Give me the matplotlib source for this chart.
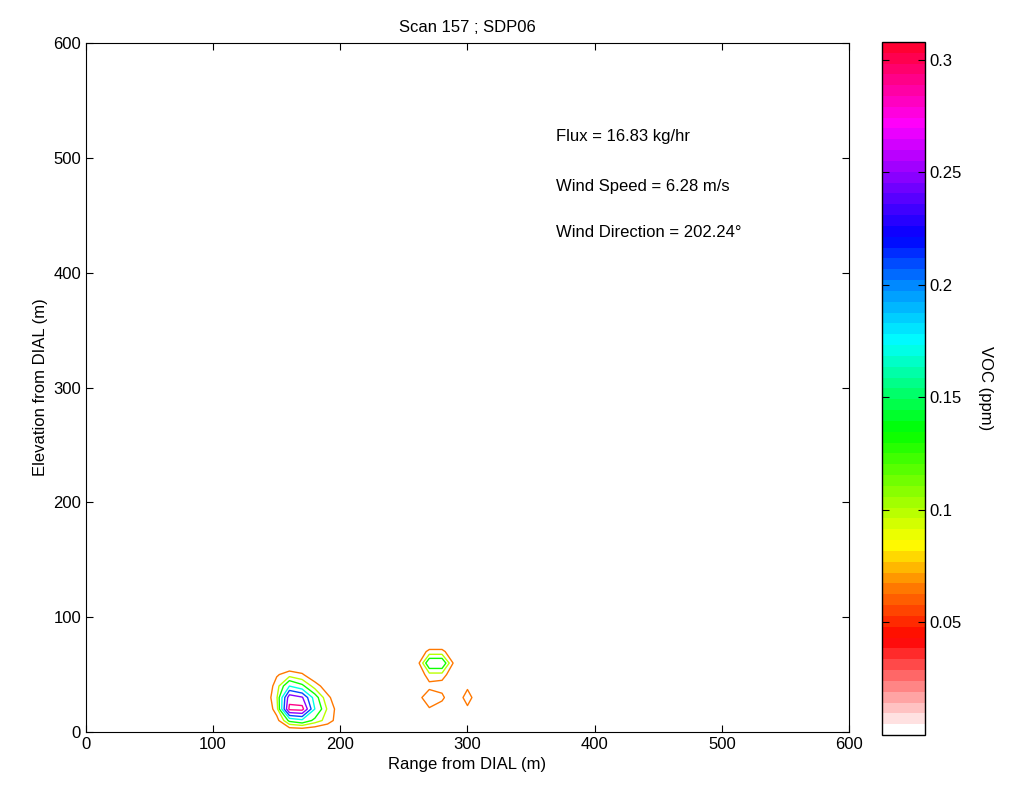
import matplotlib
matplotlib.use('Agg')
import matplotlib.pyplot as plt
import numpy as np
from matplotlib.colors import LinearSegmentedColormap, Normalize
from matplotlib.cm import ScalarMappable

plt.rcParams['font.family'] = ['Liberation Sans Narrow', 'Liberation Sans', 'DejaVu Sans']
plt.rcParams['font.size'] = 12

# grid of VOC concentration (ppm)
range_m = [140, 150, 160, 170, 180, 190, 200, 210, 220, 230, 240, 250, 260, 270, 280, 290, 300, 310]
elev_m = [0, 10, 20, 30, 40, 50, 60, 70, 80]
voc_ppm = [
    [.01, .02, .02, .02, .02, .02, .01, 0, 0, 0, 0, 0, 0, .01, .01, 0, 0, 0],
    [.01, .05, .14, .16, .12, .085, .04, .01, 0, 0, 0, 0, 0, .02, .01, 0, 0, 0],
    [.02, .085, .30, .305, .17, .095, .04, .01, 0, 0, 0, 0, .01, .06, .03, .01, .05, 0],
    [.03, .095, .275, .255, .15, .075, .03, .01, 0, 0, 0, 0, .04, .10, .08, 0, .10, 0],
    [.02, .085, .17, .14, .085, .04, .02, 0, 0, 0, 0, 0, .01, .05, .04, .01, .05, 0],
    [.01, .06, .085, .07, .03, .02, .01, 0, 0, 0, 0, 0, .02, .09, .09, .02, 0, 0],
    [0, .02, .02, .02, .01, 0, 0, 0, 0, 0, 0, 0, .04, .165, .165, .05, 0, 0],
    [0, 0, 0, 0, 0, 0, 0, 0, 0, 0, 0, 0, .02, .08, .08, .02, 0, 0],
    [0, 0, 0, 0, 0, 0, 0, 0, 0, 0, 0, 0, 0, 0, 0, 0, 0, 0],
]
levels = [0.065, 0.10, 0.13, 0.17, 0.21, 0.25, 0.29]
cbar_ticks = [0.05, 0.1, 0.15, 0.2, 0.25, 0.3]
cbar_labels = ['0.05', '0.1', '0.15', '0.2', '0.25', '0.3']

flux = 16.83
wind_speed = 6.28
wind_dir = 202.24

vmax = 0.308
anchors = [
    (0.0, (1, 1, 1)),
    (0.041, (1, 0, 0)),
    (0.065, (1, 0.5, 0)),
    (0.084, (1, 1, 0)),
    (0.135, (0, 1, 0)),
    (0.175, (0, 1, 1)),
    (0.200, (0, 0.55, 1)),
    (0.222, (0, 0, 1)),
    (0.250, (0.55, 0, 1)),
    (0.273, (1, 0, 1)),
    (0.308, (1, 0, 0.2)),
]
cmap = LinearSegmentedColormap.from_list('voc', [(v / vmax, c) for v, c in anchors], N=64)
norm = Normalize(0, vmax)

fig = plt.figure(figsize=(10.16, 7.94), dpi=100)
ax = fig.add_axes([0.0846, 0.0781, 0.751, 0.8677])
cax = fig.add_axes([0.868, 0.0743, 0.042, 0.873])

X, Y = np.meshgrid(range_m, elev_m)
ax.contour(X, Y, np.array(voc_ppm), levels=levels, cmap=cmap, norm=norm, linewidths=1.0)

ax.set_xlim(0, 600)
ax.set_ylim(0, 600)
ax.set_xticks(np.arange(0, 601, 100))
ax.set_yticks(np.arange(0, 601, 100))
ax.tick_params(direction='in', top=True, right=True, length=5, labelsize=12)
ax.set_xlabel('Range from DIAL (m)')
ax.set_ylabel('Elevation from DIAL (m)')
ax.set_title('Scan 157 ; SDP06', fontsize=12, pad=8)

ax.text(370, 519, f'Flux = {flux:.2f} kg/hr', fontsize=12, va='center')
ax.text(370, 475, f'Wind Speed = {wind_speed:.2f} m/s', fontsize=12, va='center')
ax.text(370, 435, f'Wind Direction = {wind_dir:.2f}\u00b0', fontsize=12, va='center')

cb = fig.colorbar(ScalarMappable(norm=norm, cmap=cmap), cax=cax)
cb.set_ticks(cbar_ticks)
cb.set_ticklabels(cbar_labels)
cax.tick_params(direction='in', left=True, right=True, length=5, labelsize=12)
cb.outline.set_linewidth(1)
cb.set_label('VOC (ppm)', rotation=270, labelpad=12)
cax.yaxis.set_label_coords(2.6, 0.5)

fig.savefig('out.png', dpi=100)
